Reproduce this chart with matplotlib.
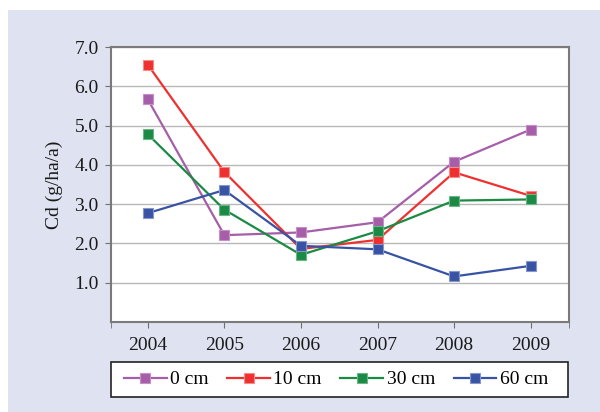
import matplotlib
matplotlib.use("Agg")
import matplotlib.pyplot as plt
from matplotlib.patches import Rectangle

years = ["2004", "2005", "2006", "2007", "2008", "2009"]
series_labels = ["0 cm", "10 cm", "30 cm", "60 cm"]
cm0 = [5.67, 2.21, 2.28, 2.54, 4.08, 4.90]
cm10 = [6.55, 3.82, 1.86, 2.09, 3.81, 3.21]
cm30 = [4.78, 2.86, 1.71, 2.31, 3.09, 3.12]
cm60 = [2.77, 3.36, 1.94, 1.85, 1.16, 1.43]
yticks = [1.0, 2.0, 3.0, 4.0, 5.0, 6.0, 7.0]

colors = ["#a65ea8", "#ee3130", "#1b8a44", "#3953a4"]
edge_colors = ["#c58ec6", "#f58a88", "#6cb486", "#8596cc"]

plt.rcParams['font.family'] = ['Liberation Serif', 'DejaVu Serif']
FS = 14
W, H = 600, 412

fig = plt.figure(figsize=(6.0, 4.12), dpi=100)
fig.patch.set_facecolor("white")
fig.patches.append(Rectangle((8/W, 0), 1 - 8/W, 1 - 10/H,
                             transform=fig.transFigure, facecolor="#dfe2f0",
                             edgecolor="none", zorder=-10))
# legend box
fig.patches.append(Rectangle((111/W, 1 - 397/H), (568 - 111)/W, 35/H,
                             transform=fig.transFigure, facecolor="white",
                             edgecolor="#222222", lw=1.2, zorder=-5))

ax = fig.add_axes([111/W, 1 - 322/H, (569 - 111)/W, (322 - 47)/H])
ax.set_facecolor("white")

x = list(range(len(years)))
for vals, lab, c, ec in zip([cm0, cm10, cm30, cm60], series_labels, colors, edge_colors):
    ax.plot(x, vals, color=c, lw=1.6, marker="s", markersize=7.5,
            markerfacecolor=c, markeredgecolor=ec, markeredgewidth=0.8,
            label=lab, zorder=3)

ax.set_xlim(-0.48, 5.5)
ax.set_ylim(0, 7)
ax.set_yticks(yticks)
ax.set_yticklabels([f"{v:.1f}" for v in yticks], fontsize=FS, color="#1a1a1a")
ax.set_xticks(x)
ax.set_xticklabels(years, fontsize=FS, color="#1a1a1a")
ax.set_xticks([-0.48, 5.5], minor=True)
ax.tick_params(axis="x", which="both", direction="out", length=4, color="#707070", pad=7)
ax.tick_params(axis="y", which="both", direction="out", length=4, color="#707070", pad=5)

ax.grid(axis="y", color="#b8b8b8", lw=1.0)
ax.set_axisbelow(True)
for s in ax.spines.values():
    s.set_color("#7a7a7a")
    s.set_linewidth(1.5)

ax.set_ylabel("Cd (g/ha/a)", fontsize=FS, color="#1a1a1a", labelpad=8)

leg = fig.legend(loc="center", ncol=4,
                 bbox_to_anchor=(336/W, 1 - 379.5/H),
                 bbox_transform=fig.transFigure, fontsize=FS, frameon=False,
                 handlelength=2.2, handletextpad=0.18,
                 borderaxespad=0, borderpad=0.0, columnspacing=0.95)
for h in leg.legend_handles:
    h.set_markersize(7)

fig.savefig("out.png", dpi=100, facecolor=fig.get_facecolor())
